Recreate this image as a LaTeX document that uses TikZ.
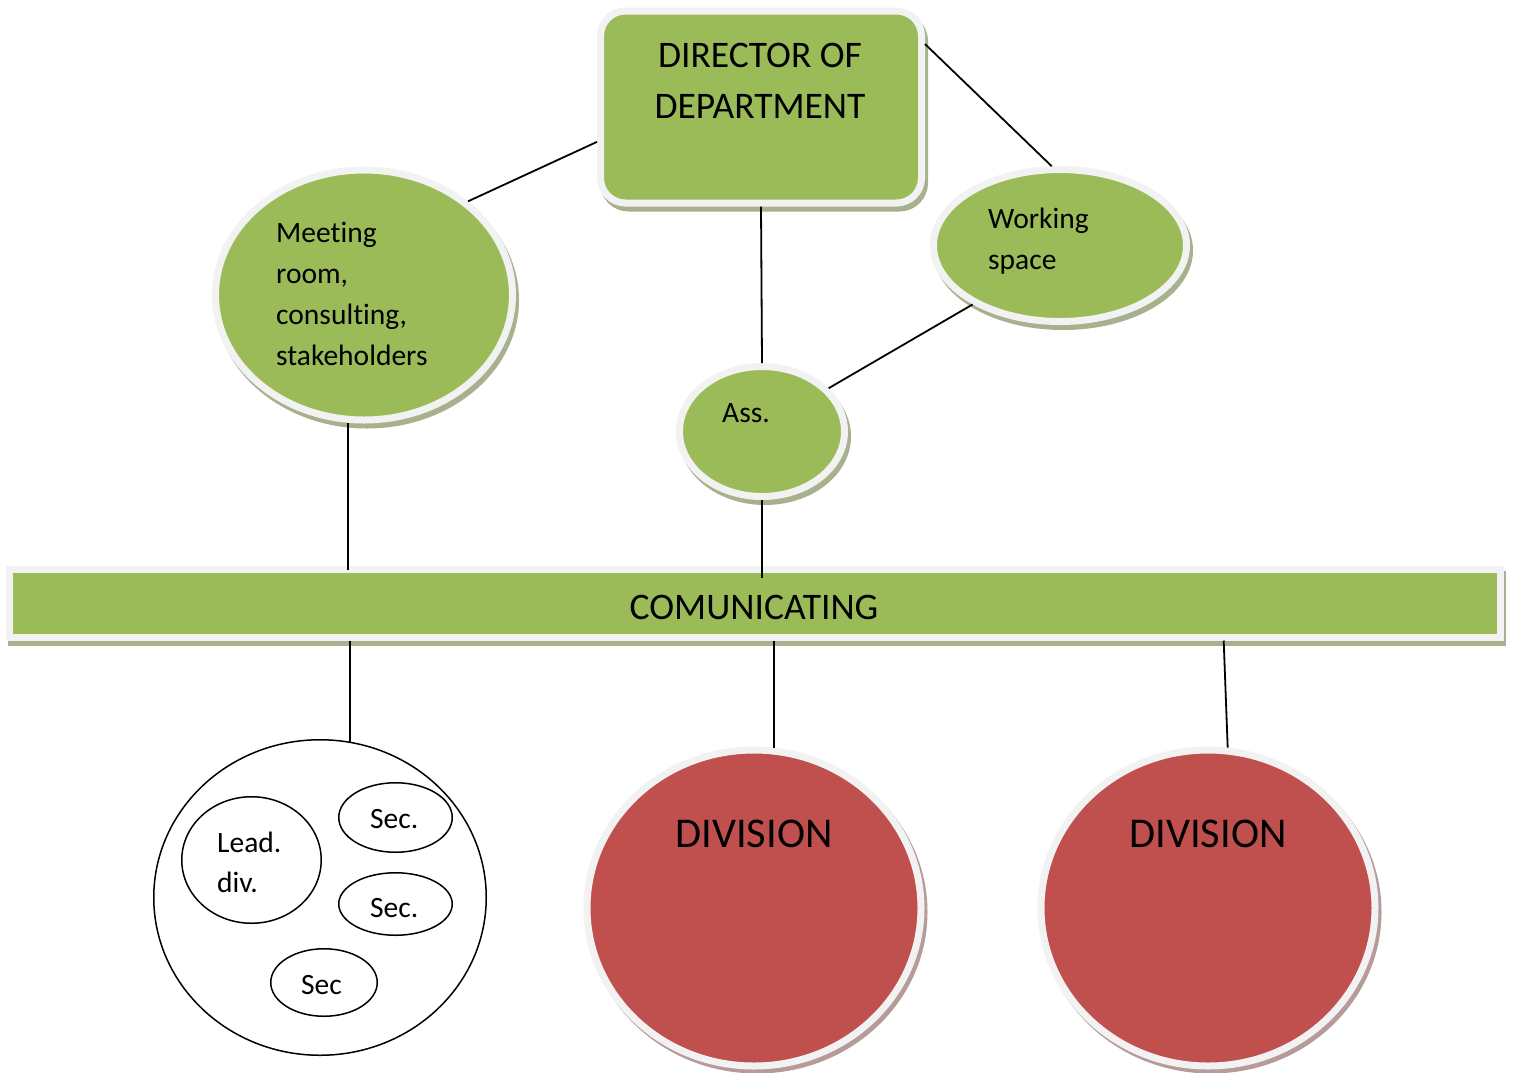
\documentclass[tikz,border=0pt]{standalone}
\usepackage{fontspec}
\setmainfont{Carlito}[RawFeature=-liga]
\usetikzlibrary{shapes.geometric,calc}
\definecolor{gG}{HTML}{9BBB59}
\definecolor{rR}{HTML}{C0504D}
\definecolor{bd}{HTML}{F2F2F2}
\definecolor{shG}{HTML}{A7B18E}
\definecolor{shR}{HTML}{B79A9A}
\begin{document}
\begin{tikzpicture}[x=1pt,y=-1pt,
  shp/.style={inner sep=0pt, line width=7pt, draw=bd},
  gshape/.style={shp, fill=gG},
  rshape/.style={shp, fill=rR},
  gshadow/.style={inner sep=0pt, line width=7pt, draw=shG, fill=shG},
  rshadow/.style={inner sep=0pt, line width=7pt, draw=shR, fill=shR},
  conn/.style={line width=1.8pt, draw=black},
  small/.style={font=\fontsize{29.5}{35}\selectfont, inner sep=0pt},
  big/.style={font=\fontsize{37.5}{45}\selectfont, inner sep=0pt},
  huge/.style={font=\fontsize{42.4}{50}\selectfont, inner sep=0pt},
  lab/.style={ellipse, draw=black, line width=1.5pt, inner sep=0pt, fill=white}]
\useasboundingbox[fill=white] (0,0) rectangle (1513,1072);

% shadows
\node[gshadow, rectangle, rounded corners=25pt, minimum width=321pt, minimum height=192pt] (dirS) at (764,112) {};
\node[gshadow, ellipse, minimum width=297pt, minimum height=250pt] (meetS) at (367,300) {};
\node[gshadow, ellipse, minimum width=253pt, minimum height=152pt] (workS) at (1063,250.5) {};
\node[gshadow, ellipse, minimum width=165pt, minimum height=130pt] (assS) at (765,436.5) {};
\node[gshadow, rectangle, minimum width=1491pt, minimum height=67.5pt] (barS) at (756.5,608.25) {};
\node[rshadow, ellipse, minimum width=334pt, minimum height=316pt] (div1S) at (757,912) {};
\node[rshadow, ellipse, minimum width=334pt, minimum height=316pt] (div2S) at (1211,912) {};

% shapes
\node[gshape, rectangle, rounded corners=25pt, minimum width=321pt, minimum height=192pt] (dir) at (761,107) {};
\node[gshape, ellipse, minimum width=297pt, minimum height=250pt] (meet) at (364,295) {};
\node[gshape, ellipse, minimum width=253pt, minimum height=152pt] (work) at (1060,245.5) {};
\node[gshape, ellipse, minimum width=165pt, minimum height=130pt] (ass) at (762,431.5) {};
\node[gshape, rectangle, minimum width=1491pt, minimum height=67.5pt] (bar) at (754.5,603.25) {};
\node[rshape, ellipse, minimum width=334pt, minimum height=316pt] (div1) at (754,908) {};
\node[rshape, ellipse, minimum width=334pt, minimum height=316pt] (div2) at (1208,908) {};

% white group circle
\node[lab, minimum width=332.5pt, minimum height=315.5pt] (wc) at (320,897.5) {};
\node[lab, minimum width=139.5pt, minimum height=126.5pt] (lead) at (251.5,860) {};
\node[lab, minimum width=113.5pt, minimum height=69.5pt] (sec1) at (395.5,817.5) {};
\node[lab, minimum width=113.5pt, minimum height=62.5pt] (sec2) at (395.5,904) {};
\node[lab, minimum width=106.5pt, minimum height=67.5pt] (sec3) at (324,982.5) {};

% connectors
\draw[conn] (meet.42.4) -- (dir.192.4);
\draw[conn] (dir.21.6) -- (work.96.6);
\draw[conn] (dir.south) -- (ass.north);
\draw[conn] (work.214.4) -- (ass.33);
\draw[conn] (meet.263.3) -- ($(meet.263.3 |- bar.north)+(0,4)$);
\draw[conn] (ass.south) -- ($(ass.south |- bar.north)+(0,12)$);
\draw[conn] (wc.79.4 |- bar.south) -- (wc.79.4);
\draw[conn] (div1.83.3 |- bar.south) -- (div1.83.3);
\draw[conn] ($(div2.83.5 |- bar.south)+(-4,0)$) -- (div2.83.5);

% texts
\node[big, anchor=base] (tdir1) at (760,67) {DIRECTOR OF};
\node[big, anchor=base] (tdir2) at (760,118) {DEPARTMENT};
\node[small, anchor=base west] (tm1) at (276,242) {Meeting};
\node[small, anchor=base west] (tm2) at (276,283) {room,};
\node[small, anchor=base west] (tm3) at (276,324) {consulting,};
\node[small, anchor=base west] (tm4) at (276,365) {stakeholders};
\node[small, anchor=base west] (tw1) at (988,228) {Working};
\node[small, anchor=base west] (tw2) at (988,269) {space};
\node[small, anchor=base west] (ta) at (722,422) {Ass.};
\node[big, anchor=base] (tbar) at (754,619) {COMUNICATING};
\node[huge, anchor=base] (td1) at (754,847) {DIVISION};
\node[huge, anchor=base] (td2) at (1208,847) {DIVISION};
\node[small, anchor=base west] (tl1) at (217,852) {Lead.};
\node[small, anchor=base west] (tl2) at (217,892) {div.};
\node[small, anchor=base west] (ts1) at (370,828) {Sec.};
\node[small, anchor=base west] (ts2) at (370,917) {Sec.};
\node[small, anchor=base west] (ts3) at (301,994) {Sec};
\end{tikzpicture}
\end{document}
